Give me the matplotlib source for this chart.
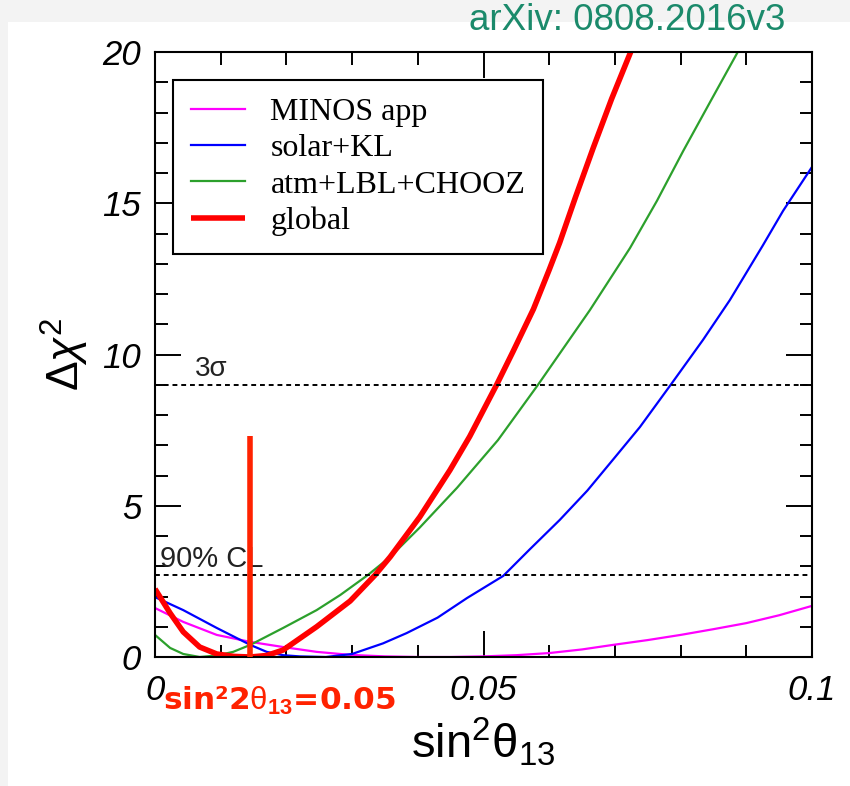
import matplotlib
matplotlib.use("Agg")
import matplotlib.pyplot as plt
from matplotlib.patches import Rectangle

minos_x = [0.0, 0.0043, 0.0094, 0.0145, 0.0195, 0.0246, 0.0297, 0.035, 0.040, 0.045,
           0.050, 0.055, 0.060, 0.065, 0.0697, 0.075, 0.080, 0.085, 0.090, 0.095, 0.100]
minos_y = [1.62, 1.16, 0.73, 0.50, 0.33, 0.17, 0.07, 0.02, 0.0, 0.0,
           0.02, 0.06, 0.13, 0.25, 0.40, 0.56, 0.73, 0.92, 1.12, 1.38, 1.69]

solar_x = [0.0, 0.0043, 0.0094, 0.0145, 0.017, 0.0195, 0.022, 0.026, 0.030, 0.0347,
           0.0383, 0.043, 0.0475, 0.053, 0.057, 0.0616, 0.0658, 0.070, 0.0738, 0.0785,
           0.0834, 0.0875, 0.0925, 0.0956, 0.100]
solar_y = [1.98, 1.55, 0.96, 0.40, 0.17, 0.06, 0.02, 0.0, 0.10, 0.45,
           0.79, 1.30, 1.95, 2.68, 3.55, 4.53, 5.50, 6.60, 7.60, 9.00,
           10.48, 11.80, 13.60, 14.75, 16.20]

atm_x = [0.0, 0.0023, 0.0043, 0.0068, 0.0094, 0.0119, 0.0145, 0.0195, 0.0246, 0.0282,
         0.0324, 0.0358, 0.0403, 0.046, 0.0522, 0.0583, 0.0662, 0.0723, 0.0764, 0.0804,
         0.0845, 0.0887]
atm_y = [0.73, 0.30, 0.10, 0.0, 0.05, 0.17, 0.40, 0.96, 1.55, 2.05,
         2.71, 3.31, 4.28, 5.60, 7.17, 9.00, 11.47, 13.52, 15.08, 16.73,
         18.35, 20.0]

glob_x = [0.0, 0.0023, 0.0043, 0.0068, 0.0094, 0.012, 0.0145, 0.017, 0.0195, 0.0246,
          0.0297, 0.0335, 0.0358, 0.0403, 0.0449, 0.0479, 0.052, 0.0545, 0.0576, 0.060,
          0.0616, 0.064, 0.0667, 0.0695, 0.0724]
glob_y = [2.25, 1.45, 0.83, 0.33, 0.10, 0.02, 0.0, 0.05, 0.23, 1.00,
          1.85, 2.71, 3.31, 4.63, 6.18, 7.29, 9.00, 10.10, 11.50, 12.80,
          13.70, 15.20, 16.83, 18.45, 20.0]

labels = ["MINOS app", "solar+KL", "atm+LBL+CHOOZ", "global"]
cl_levels = [2.71, 9.0]
cl_labels = ["90% CL", "3\u03c3"]
marker_x = 0.0145
marker_top = 7.3

x_ticks = [0.0, 0.05, 0.1]
x_ticklabels = ["0", "0.05", "0.1"]
y_ticks = [0, 5, 10, 15, 20]
y_ticklabels = ["0", "5", "10", "15", "20"]

plt.rcParams["font.family"] = ["Liberation Sans", "DejaVu Sans"]
plt.rcParams["mathtext.fontset"] = "custom"
plt.rcParams["mathtext.rm"] = "Liberation Sans"
plt.rcParams["mathtext.it"] = "Liberation Sans:italic"
plt.rcParams["mathtext.bf"] = "Liberation Sans:bold"

W, H = 850, 786
fig = plt.figure(figsize=(W / 100, H / 100), dpi=100, facecolor="#f3f3f3")
fig.patches.append(Rectangle((8 / W, 0), 1, (H - 22) / H, transform=fig.transFigure,
                             facecolor="white", edgecolor="none", zorder=-10))

ax = fig.add_axes([155 / W, (H - 657) / H, 657 / W, 605 / H])
ax.set_xlim(0, 0.1)
ax.set_ylim(0, 20)

ax.plot(minos_x, minos_y, color="#ff00ff", lw=1.6, label=labels[0])
ax.plot(solar_x, solar_y, color="#0000ff", lw=1.6, label=labels[1])
ax.plot(atm_x, atm_y, color="#2ca02c", lw=1.6, label=labels[2])
ax.plot(glob_x, glob_y, color="#ff0000", lw=4.0, label=labels[3], solid_capstyle="butt")

for lev, txt, tx, fs in zip(cl_levels, cl_labels, [0.0008, 0.0061], [21, 20]):
    ax.axhline(lev, color="black", lw=1.4, ls=(0, (2.5, 2)))
    ax.text(tx, lev + 0.08, txt, fontsize=fs, color="#222222", va="bottom", ha="left")

ax.plot([marker_x, marker_x], [0, marker_top], color="#ff2200", lw=4.0,
        solid_capstyle="butt", zorder=5)

ax.set_xticks(x_ticks, x_ticklabels, fontstyle="italic", fontsize=25)
ax.set_yticks(y_ticks, y_ticklabels, fontstyle="italic", fontsize=25)
ax.set_xticks([i / 100 for i in range(11)], minor=True)
ax.set_yticks(range(21), minor=True)
ax.tick_params(which="both", direction="in", top=True, right=True, width=1.4)
ax.tick_params(which="major", length=19)
ax.tick_params(which="minor", length=9)
ax.tick_params(axis="x", which="major", pad=12)
ax.tick_params(axis="y", which="major", pad=10)
for sp in ax.spines.values():
    sp.set_linewidth(1.5)

ax.set_xlabel(r"$\mathrm{sin^2\theta_{13}}$", fontsize=34, labelpad=6)
ax.set_ylabel(r"$\Delta\chi^2$", fontsize=32, labelpad=8)

leg = ax.legend(loc="upper left", bbox_to_anchor=(0.0274, 0.954), borderaxespad=0,
                prop={"family": "Liberation Serif", "size": 23},
                fancybox=False, framealpha=1, edgecolor="black",
                handlelength=1.7, handletextpad=0.8, labelspacing=0.22, borderpad=0.55)
leg.get_frame().set_linewidth(1.5)

ax.text(0.0012, -1.45, r"sin²2$\mathrm{\theta}_{\mathbf{13}}$=0.05", color="#ff2200",
        fontsize=22.5, fontweight="bold", ha="left", va="center",
        family=["DejaVu Sans"], zorder=6, clip_on=False)

fig.text(627 / W, 1 - 21 / H, "arXiv: 0808.2016v3", color="#1b8a6b", fontsize=26.5,
         ha="center", va="center")

fig.savefig("out.png", dpi=100, facecolor=fig.get_facecolor())
